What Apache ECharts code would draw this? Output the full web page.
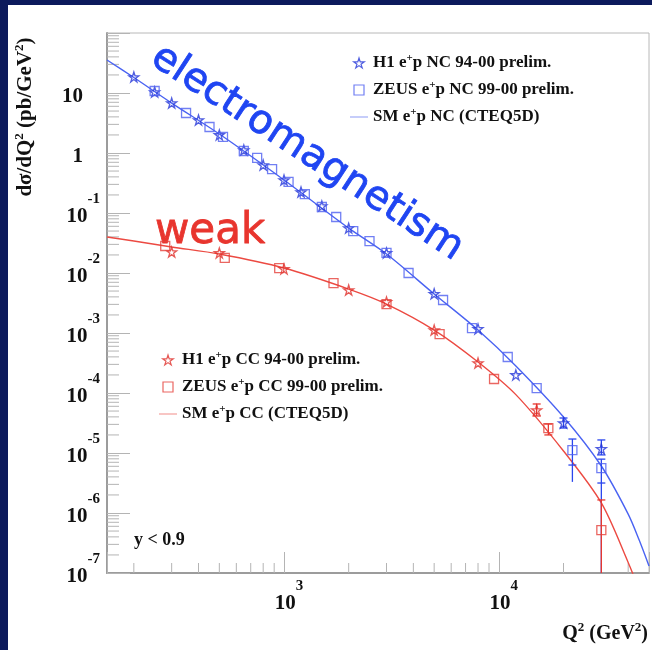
<!DOCTYPE html>
<html>
<head>
<meta charset="utf-8">
<script src="https://cdn.jsdelivr.net/npm/echarts@6/dist/echarts.min.js"></script>
<style>
  body { margin: 0; background: #0c1a5c; }
  #paper { position: absolute; left: 8px; top: 5px; width: 644px; height: 645px; background: #fff; }
  #chart-container { position: absolute; left: 0; top: 0; width: 652px; height: 650px; }
</style>
</head>
<body>
<div id="paper"></div>
<div id="chart-container"></div>
<script>
// H1 / ZEUS e+p neutral current (NC) and charged current (CC)
var ncH1Q2 = [200, 250, 300, 400, 500, 650, 800, 1000, 1200, 1500, 2000, 3000, 5000, 8000, 12000, 20000, 30000];
var ncH1 = [18.5, 10.4, 6.8, 3.55, 2.0, 1.12, 0.63, 0.355, 0.224, 0.131, 0.056, 0.0216, 0.0045, 0.00117, 2.0e-4, 3.16e-5, 1.17e-5];

var ncZeusQ2 = [250, 350, 450, 520, 650, 750, 880, 1050, 1250, 1500, 1750, 2100, 2500, 3000, 3800, 5500, 7500, 11000, 15000, 22000, 30000];
var ncZeus = [10.8, 4.64, 2.71, 1.85, 1.08, 0.83, 0.54, 0.33, 0.207, 0.126, 0.0858, 0.050, 0.0341, 0.0216, 0.0100, 0.00355, 0.00121, 3.98e-4, 1.21e-4, 1.12e-5, 5.6e-6];

var ccH1Q2 = [300, 500, 1000, 2000, 3000, 5000, 8000, 15000];
var ccH1 = [0.0224, 0.0216, 0.0117, 0.0052, 0.0033, 0.00112, 3.16e-4, 5.2e-5];

var ccZeusQ2 = [280, 530, 950, 1700, 3000, 5300, 9500, 17000, 30000];
var ccZeus = [0.0282, 0.0178, 0.0121, 0.0068, 0.00304, 9.6e-4, 1.71e-4, 2.6e-5, 5.2e-7];

// SM predictions (CTEQ5D)
var smNcQ2 = [150, 200, 300, 500, 1000, 2000, 3000, 5000, 8000, 12000, 20000, 30000, 40000, 45000, 50000];
var smNc = [35.5, 18.1, 6.8, 2.07, 0.355, 0.056, 0.0207, 0.00447, 0.00112, 2.82e-4, 3.98e-5, 6.07e-6, 9.6e-7, 3.55e-7, 1.31e-7];
var smCcQ2 = [150, 200, 300, 500, 1000, 2000, 3000, 5000, 8000, 12000, 20000, 30000, 40000, 45000];
var smCc = [0.0398, 0.0341, 0.0271, 0.0207, 0.0121, 0.0054, 0.00304, 0.00112, 3.29e-4, 9.4e-5, 1.08e-5, 1.47e-6, 1.5e-7, 5.2e-8];

// error bars: [Q2, low, high, capLow, capHigh]
var ncH1Err = [[20000, 2.61e-5, 3.83e-5, 1, 1], [30000, 9.3e-6, 1.65e-5, 1, 1]];
var ncZeusErr = [[22000, 6.3e-6, 1.71e-5, 1, 1], [22000, 3.3e-6, 6.3e-6, 0, 0], [30000, 3.16e-6, 7.9e-6, 1, 1], [30000, 1e-9, 3.16e-6, 0, 0]];
var ccH1Err = [[15000, 4.14e-5, 6.56e-5, 1, 1]];
var ccZeusErr = [[17000, 2.0e-5, 3.04e-5, 1, 1], [30000, 1e-9, 1.65e-6, 0, 1]];

var xMin = 150, xMax = 50000, yMin = 1e-7, yMax = 100;

var blue = "#2a46ee";
var blueLine = "#4a63f2";
var red = "#e8372f";
var redLine = "#ec4a42";
var serif = '"Liberation Serif", "DejaVu Serif", serif';
var starPath = "path://M0,-5L1.12,-1.55L4.76,-1.55L1.82,0.59L2.94,4.05L0,1.91L-2.94,4.05L-1.82,0.59L-4.76,-1.55L-1.12,-1.55Z";
var boxPath = "path://M0,0L10,0L10,10L0,10Z";
var linePath = "path://M0,0L24,0L24,1.3L0,1.3Z";
var ZW = "\u200b";

function zip(xs, ys) {
  return xs.map(function (x, i) { return [x, ys[i]]; });
}
function expOf(v) { return Math.round(Math.log10(v)); }
function isDecade(v) { return Math.abs(Math.log10(v) - expOf(v)) < 0.01; }

// minor ticks 2..9 x 10^k
var xMinor = [], yMinor = [];
for (var k = 2; k <= 4; k++) {
  for (var m = 2; m <= 9; m++) {
    var q = m * Math.pow(10, k);
    if (q > xMin && q < xMax) xMinor.push([q, yMin]);
  }
}
for (var k2 = -7; k2 <= 1; k2++) {
  for (var m2 = 2; m2 <= 9; m2++) yMinor.push([xMin, m2 * Math.pow(10, k2)]);
}

function errSeries(data, color) {
  return {
    type: "custom",
    data: data,
    silent: true,
    clip: true,
    z: 3,
    renderItem: function (params, api) {
      var q = api.value(0);
      var lo = api.coord([q, api.value(1)]);
      var hi = api.coord([q, api.value(2)]);
      var st = { stroke: color, lineWidth: 1.3 };
      var kids = [{ type: "line", shape: { x1: lo[0], y1: lo[1], x2: hi[0], y2: hi[1] }, style: st }];
      if (api.value(3)) kids.push({ type: "line", shape: { x1: lo[0] - 4, y1: lo[1], x2: lo[0] + 4, y2: lo[1] }, style: st });
      if (api.value(4)) kids.push({ type: "line", shape: { x1: hi[0] - 4, y1: hi[1], x2: hi[0] + 4, y2: hi[1] }, style: st });
      return { type: "group", children: kids };
    },
  };
}

function tickSeries(data, horizontal, len) {
  return {
    type: "custom",
    data: data,
    silent: true,
    clip: false,
    z: 1,
    renderItem: function (params, api) {
      var p = api.coord([api.value(0), api.value(1)]);
      var shape = horizontal
        ? { x1: p[0], y1: p[1], x2: p[0] + len, y2: p[1] }
        : { x1: p[0], y1: p[1], x2: p[0], y2: p[1] - len };
      return { type: "line", shape: shape, style: { stroke: "#b4b4b4", lineWidth: 1 } };
    },
  };
}

// "10" sits low in a 35px line, the exponent at its top
var labelRich = {
  b: { fontSize: 21, fontWeight: "bold", fontFamily: serif, color: "#111", lineHeight: 30, verticalAlign: "bottom" },
  s: { fontSize: 15, fontWeight: "bold", fontFamily: serif, color: "#111", lineHeight: 14, verticalAlign: "top" },
  h: { lineHeight: 35 },
  sp: { width: 17, lineHeight: 35 },
  pl: { width: 10, lineHeight: 35 },
};

var legendRich = {
  s: { fontSize: 11, lineHeight: 8, verticalAlign: "top" },
};
function legendFmt(name) {
  return name.replace("e+p", "e{s|+}p");
}

var supRich = { s: { font: "bold 13px " + serif, fill: "#111", verticalAlign: "top", lineHeight: 10 } };

var dom = document.getElementById("chart-container");
var myChart = echarts.init(dom, null, { renderer: "canvas" });

var option = {
  animation: false,
  grid: {
    left: 107, top: 33, right: 2, bottom: 77,
    show: true, borderColor: "#b8b8b8", borderWidth: 1, backgroundColor: "transparent",
  },
  xAxis: {
    type: "log", logBase: 10, min: xMin, max: xMax,
    axisLine: { lineStyle: { color: "#9c9c9c", width: 2 } },
    axisTick: { inside: true, length: 21, lineStyle: { color: "#b4b4b4", width: 1 } },
    splitLine: { show: false },
    axisLabel: {
      margin: 6,
      formatter: function (v) {
        if (!isDecade(v)) return "";
        return "{pl|" + ZW + "}{b|10}{s|" + expOf(v) + "}{h|" + ZW + "}";
      },
      rich: labelRich,
    },
  },
  yAxis: {
    type: "log", logBase: 10, min: yMin, max: yMax, splitNumber: 10,
    axisLine: { lineStyle: { color: "#9c9c9c", width: 2 } },
    axisTick: { inside: true, length: 23, lineStyle: { color: "#b4b4b4", width: 1 } },
    splitLine: { show: false },
    axisLabel: {
      margin: 7,
      padding: [0, 0, 7, 0],
      formatter: function (v) {
        if (!isDecade(v)) return "";
        var e = expOf(v);
        if (e >= 2) return "";
        if (e === 1) return "{b|10}{sp|" + ZW + "}";
        if (e === 0) return "{b|1}{sp|" + ZW + "}";
        return "{b|10}{s|" + e + "}{h|" + ZW + "}";
      },
      rich: labelRich,
    },
  },
  legend: [
    {
      left: 345, top: 48, orient: "vertical", itemWidth: 18, itemHeight: 10, itemGap: 7,
      itemStyle: { borderWidth: 1.2 },
      textStyle: { fontSize: 17, fontWeight: "bold", fontFamily: serif, color: "#111", lineHeight: 20, rich: legendRich },
      formatter: legendFmt,
      selectedMode: false,
      data: [
        { name: "H1 e+p NC 94-00 prelim.", icon: starPath },
        { name: "ZEUS e+p NC 99-00 prelim.", icon: boxPath },
        { name: "SM e+p NC (CTEQ5D)", icon: linePath, itemStyle: { color: "#8a98f5", borderWidth: 0 } },
      ],
    },
    {
      left: 154, top: 345, orient: "vertical", itemWidth: 18, itemHeight: 10, itemGap: 7,
      itemStyle: { borderWidth: 1.2 },
      textStyle: { fontSize: 17, fontWeight: "bold", fontFamily: serif, color: "#111", lineHeight: 20, rich: legendRich },
      formatter: legendFmt,
      selectedMode: false,
      data: [
        { name: "H1 e+p CC 94-00 prelim.", icon: starPath },
        { name: "ZEUS e+p CC 99-00 prelim.", icon: boxPath },
        { name: "SM e+p CC (CTEQ5D)", icon: linePath, itemStyle: { color: "#f08a86", borderWidth: 0 } },
      ],
    },
  ],
  graphic: [
    {
      type: "text", x: 26, y: 117, rotation: Math.PI / 2,
      style: {
        text: "dσ/dQ{s|2} (pb/GeV{s|2})",
        font: "bold 21px " + serif, fill: "#111", align: "center", verticalAlign: "middle", lineHeight: 26,
        rich: supRich,
      },
    },
    {
      type: "text", x: 648, y: 634,
      style: {
        text: "Q{s|2} (GeV{s|2})",
        font: "bold 20px " + serif, fill: "#111", align: "right", verticalAlign: "middle", lineHeight: 26,
        rich: supRich,
      },
    },
    {
      type: "text", x: 134, y: 540,
      style: { text: "y < 0.9", font: "bold 18px " + serif, fill: "#111", align: "left", verticalAlign: "middle" },
    },
    {
      type: "text", x: 307, y: 153, rotation: -33 * Math.PI / 180,
      style: { text: "electromagnetism", font: '40px "DejaVu Sans"', fill: "#1f45f2", stroke: "#1f45f2", lineWidth: 0.8, align: "center", verticalAlign: "middle" },
    },
    {
      type: "text", x: 155, y: 232,
      style: { text: "weak", font: '42px "DejaVu Sans"', fill: "#e8352e", stroke: "#e8352e", lineWidth: 0.8, align: "left", verticalAlign: "middle" },
    },
  ],
  series: [
    tickSeries(xMinor, false, 10),
    tickSeries(yMinor, true, 12),
    {
      name: "SM e+p NC (CTEQ5D)", type: "line", data: zip(smNcQ2, smNc), smooth: 0.3,
      symbol: "none", lineStyle: { color: blueLine, width: 1.4 }, itemStyle: { color: blueLine }, z: 2,
    },
    {
      name: "SM e+p CC (CTEQ5D)", type: "line", data: zip(smCcQ2, smCc), smooth: 0.3,
      symbol: "none", lineStyle: { color: redLine, width: 1.4 }, itemStyle: { color: redLine }, z: 2,
    },
    errSeries(ncH1Err, blue),
    errSeries(ncZeusErr, blue),
    errSeries(ccH1Err, red),
    errSeries(ccZeusErr, red),
    {
      name: "H1 e+p NC 94-00 prelim.", type: "scatter", data: zip(ncH1Q2, ncH1),
      symbol: starPath, symbolSize: 10, z: 4,
      itemStyle: { color: "rgba(0,0,0,0)", borderColor: "#2436d8", borderWidth: 1.3 },
    },
    {
      name: "ZEUS e+p NC 99-00 prelim.", type: "scatter", data: zip(ncZeusQ2, ncZeus),
      symbol: "rect", symbolSize: 9, z: 4,
      itemStyle: { color: "rgba(0,0,0,0)", borderColor: "#4d5ff0", borderWidth: 1.3 },
    },
    {
      name: "H1 e+p CC 94-00 prelim.", type: "scatter", data: zip(ccH1Q2, ccH1),
      symbol: starPath, symbolSize: 10, z: 4,
      itemStyle: { color: "rgba(0,0,0,0)", borderColor: "#e0302a", borderWidth: 1.3 },
    },
    {
      name: "ZEUS e+p CC 99-00 prelim.", type: "scatter", data: zip(ccZeusQ2, ccZeus),
      symbol: "rect", symbolSize: 9, z: 4,
      itemStyle: { color: "rgba(0,0,0,0)", borderColor: "#e5403a", borderWidth: 1.3 },
    },
  ],
};

myChart.setOption(option);
window.addEventListener("resize", myChart.resize);
</script>
</body>
</html>
